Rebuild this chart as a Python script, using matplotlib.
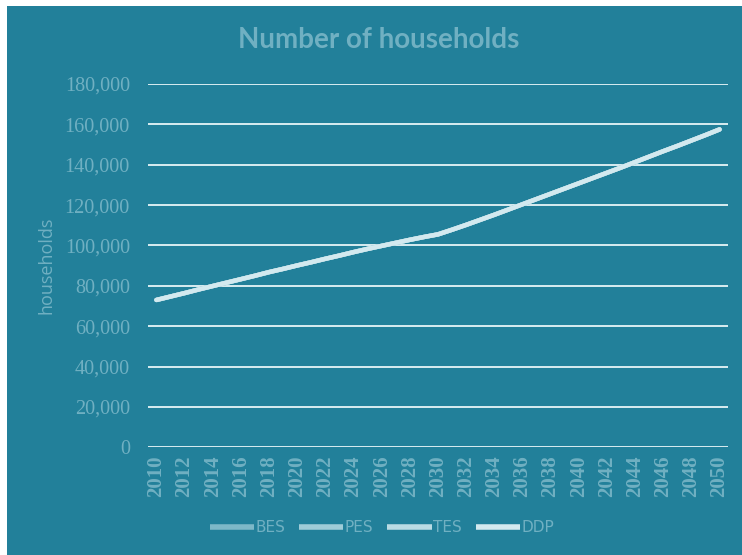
import matplotlib
matplotlib.use("Agg")
import matplotlib.pyplot as plt
from matplotlib.patches import Rectangle
from matplotlib.ticker import FuncFormatter, FixedLocator

years = list(range(2010, 2051))
tick_years = list(range(2010, 2051, 2))

base = [73000, 74700, 76400, 78200, 79900, 81600, 83300, 85000, 86800, 88400,
        90100, 91700, 93400, 95000, 96700, 98300, 99800, 101300, 102800, 104200,
        105500, 107800, 110200, 112700, 115200, 117800, 120400, 123000, 125600, 128200,
        130800, 133400, 136000, 138600, 141300, 144000, 146700, 149300, 152000, 154700,
        157500]
BES = list(base)
PES = list(base)
TES = list(base)
DDP = list(base)

series_names = ["BES", "PES", "TES", "DDP"]
series_values = [BES, PES, TES, DDP]
series_colors = ["#7DB8C8", "#9FCCD8", "#B9DBE4", "#D3E9EF"]

bg = "#22809A"
txt = "#70B0C2"

fig = plt.figure(figsize=(7.42, 5.55), dpi=100, facecolor="white")
fig.patches.append(Rectangle((7 / 742, 0), 1, 1 - 6 / 555, transform=fig.transFigure,
                             facecolor=bg, edgecolor="none", zorder=-5))

ax = fig.add_axes([148 / 742, 1 - 447.3 / 555, (728 - 148) / 742, (447.3 - 84) / 555])
ax.set_zorder(2)
ax.set_facecolor(bg)
for s in ax.spines.values():
    s.set_visible(False)

for name, vals, col in zip(series_names, series_values, series_colors):
    ax.plot(years, vals, color=col, lw=3.2, label=name, solid_capstyle="round", zorder=3)

ax.set_xlim(2009.4, 2050.6)
ax.set_ylim(0, 180000)
ax.yaxis.set_major_locator(FixedLocator(range(0, 180001, 20000)))
ax.yaxis.set_major_formatter(FuncFormatter(lambda v, p: f"{int(v):,}"))
ax.grid(axis="y", color="#D8ECF1", lw=1.4, zorder=1)
ax.set_axisbelow(True)
ax.set_xticks(tick_years)
ax.set_xticklabels([str(y) for y in tick_years], rotation=90,
                   fontfamily="Liberation Serif", fontweight="bold", fontsize=15, color=txt)
for lab in ax.get_yticklabels():
    lab.set_fontfamily("Liberation Serif")
    lab.set_fontsize(14.5)
    lab.set_color(txt)
ax.tick_params(axis="both", length=0)
ax.tick_params(axis="y", pad=13)
ax.tick_params(axis="x", pad=6)

fig.text(47 / 742, 1 - 265 / 555, "households", rotation=90, ha="center", va="center",
         fontfamily="Open Sans", fontsize=13, color=txt)
fig.text(379 / 742, 1 - 40 / 555, "Number of households", ha="center", va="center",
         fontfamily="Lato", fontweight="bold", fontsize=20, color=txt)

leg = fig.legend(loc="center", bbox_to_anchor=(382 / 742, 1 - 528 / 555), ncol=4, frameon=False,
                 handlelength=2.9, handletextpad=0.1, columnspacing=0.9,
                 prop={"family": "Liberation Sans Narrow", "size": 11})
for t in leg.get_texts():
    t.set_color(txt)
for h in leg.legend_handles:
    h.set_linewidth(4)
    h.set_solid_capstyle("butt")

fig.savefig("out.png", dpi=100, facecolor="white")
